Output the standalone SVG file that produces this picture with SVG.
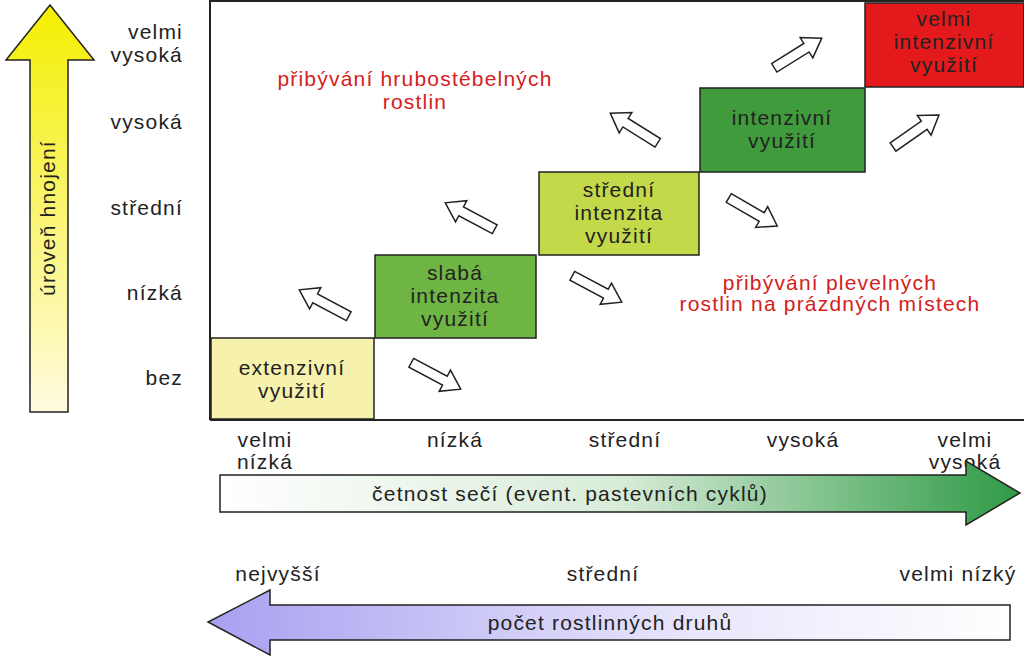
<svg xmlns="http://www.w3.org/2000/svg" width="1024" height="659" viewBox="0 0 1024 659">
<defs>
<style>
text{font-family:"Liberation Sans",Arial,sans-serif;font-size:21px;letter-spacing:1.2px;fill:#222}
.c{text-anchor:middle}
.r{text-anchor:end}
.red{fill:#d42020}
.box{stroke:#222;stroke-width:1.5}
.ha{fill:#fff;stroke:#222;stroke-width:1.5}
</style>
<linearGradient id="gy" x1="0" y1="1" x2="0" y2="0"><stop offset="0" stop-color="#fffbe0"/><stop offset="1" stop-color="#f4ef00"/></linearGradient>
<linearGradient id="gg" x1="0" y1="0" x2="1" y2="0"><stop offset="0" stop-color="#fff"/><stop offset="0.5" stop-color="#d8ecd8"/><stop offset="1" stop-color="#2e9a45"/></linearGradient>
<linearGradient id="gp" x1="0" y1="0" x2="1" y2="0"><stop offset="0" stop-color="#a8a0f0"/><stop offset="0.6" stop-color="#e8e6fb"/><stop offset="1" stop-color="#fff"/></linearGradient>
<path id="ar" d="M-28,-5 L10,-5 L10,-12 L28,0 L10,12 L10,5 L-28,5 Z"/>
</defs>
<rect width="1024" height="659" fill="#fff"/>
<g id="frame"><path d="M210,420 V1 H1024 M210,420 H1024" fill="none" stroke="#222" stroke-width="2"/></g>
<g id="yaxis">
<path d="M30,412 V60 H6 L50,5 L94,60 H68 V412 Z" fill="url(#gy)" stroke="#222" stroke-width="1.5"/>
<text transform="translate(55,218) rotate(-90)" class="c">úroveň hnojení</text>
</g>
<g id="ylabels">
<text x="183" y="39" class="r">velmi</text><text x="183" y="62" class="r">vysoká</text>
<text x="183" y="129" class="r">vysoká</text>
<text x="183" y="215" class="r">střední</text>
<text x="183" y="300" class="r">nízká</text>
<text x="183" y="385" class="r">bez</text>
</g>
<g id="n1"><rect class="box" x="211" y="338" width="163" height="81" fill="#f6f1ad"/><text x="292" y="375" class="c">extenzivní</text><text x="292" y="398" class="c">využití</text></g>
<g id="n2"><rect class="box" x="375" y="255" width="161" height="83" fill="#6fb544"/><text x="455" y="280" class="c">slabá</text><text x="455" y="303" class="c">intenzita</text><text x="455" y="326" class="c">využití</text></g>
<g id="n3"><rect class="box" x="539" y="172" width="160" height="83" fill="#c4d94a"/><text x="619" y="197" class="c">střední</text><text x="619" y="220" class="c">intenzita</text><text x="619" y="243" class="c">využití</text></g>
<g id="n4"><rect class="box" x="700" y="88" width="165" height="84" fill="#3f9b3c"/><text x="782" y="125" class="c">intenzivní</text><text x="782" y="148" class="c">využití</text></g>
<g id="n5"><rect class="box" x="865" y="3" width="159" height="84" fill="#e3191c"/><text x="944" y="26" class="c">velmi</text><text x="944" y="49" class="c">intenzivní</text><text x="944" y="72" class="c">využití</text></g>
<g id="notes">
<text x="415" y="86" class="c red">přibývání hrubostébelných</text><text x="415" y="109" class="c red">rostlin</text>
<text x="830" y="290" class="c red">přibývání plevelných</text><text x="830" y="311" class="c red">rostlin na prázdných místech</text>
</g>
<g id="connectors">
<use href="#ar" class="ha" transform="translate(324,303) rotate(208)"/>
<use href="#ar" class="ha" transform="translate(470,216) rotate(208)"/>
<use href="#ar" class="ha" transform="translate(634,128) rotate(212)"/>
<use href="#ar" class="ha" transform="translate(436,376) rotate(28)"/>
<use href="#ar" class="ha" transform="translate(597,289) rotate(28)"/>
<use href="#ar" class="ha" transform="translate(753,212) rotate(30)"/>
<use href="#ar" class="ha" transform="translate(798,53) rotate(-32)"/>
<use href="#ar" class="ha" transform="translate(916,131) rotate(-35)"/>
</g>
<g id="xlabels">
<text x="265" y="447" class="c">velmi</text><text x="265" y="469" class="c">nízká</text>
<text x="455" y="447" class="c">nízká</text>
<text x="625" y="447" class="c">střední</text>
<text x="803" y="447" class="c">vysoká</text>
<text x="965" y="447" class="c">velmi</text><text x="965" y="469" class="c">vysoká</text>
</g>
<g id="freq">
<path d="M220,475 H966 V461 L1020,493 L966,525 V512 H220 Z" fill="url(#gg)" stroke="#222" stroke-width="1.5"/>
<text x="570" y="501" class="c">četnost sečí (event. pastevních cyklů)</text>
</g>
<g id="blabels">
<text x="278" y="581" class="c">nejvyšší</text>
<text x="603" y="581" class="c">střední</text>
<text x="958" y="581" class="c">velmi nízký</text>
</g>
<g id="species">
<path d="M1010,605 H270 V590 L208,622 L270,655 V640 H1010 Z" fill="url(#gp)" stroke="#222" stroke-width="1.5"/>
<text x="610" y="630" class="c">počet rostlinných druhů</text>
</g>
</svg>
